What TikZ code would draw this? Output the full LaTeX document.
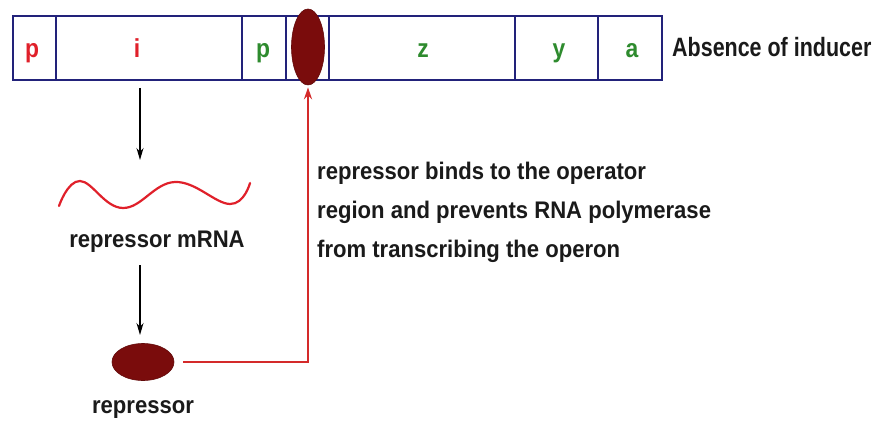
\documentclass[tikz,border=0pt]{standalone}
\usepackage{fontspec}
\setmainfont{Liberation Sans}
\newfontfamily\condfont{Liberation Sans}[FakeStretch=0.92]
\newfontfamily\narrowfont{Liberation Sans}[FakeStretch=0.81]
\newfontfamily\labfont{Liberation Sans}[FakeStretch=0.88]
\usetikzlibrary{arrows.meta,shapes.geometric}
\definecolor{navy}{HTML}{22227A}
\definecolor{genered}{HTML}{E0202A}
\definecolor{genegreen}{HTML}{2E8B2E}
\definecolor{darkrep}{HTML}{7A0C0C}
\definecolor{linkred}{HTML}{D42A2A}
\definecolor{inkblack}{HTML}{1A1A1A}
\begin{document}
\begin{tikzpicture}[x=1pt,y=-1pt,
  cell/.style={draw=navy,line width=2.2pt,minimum height=64pt,inner sep=0pt},
  lab/.style={anchor=base,inner sep=0pt,font=\labfont\fontsize{26}{30}\selectfont\bfseries},
  txt/.style={inner sep=0pt,text=inkblack,font=\condfont\fontsize{24}{28}\selectfont\bfseries},
  blob/.style={ellipse,fill=darkrep,draw=darkrep!80!black,line width=0.6pt,inner sep=0pt},
  blackarrow/.style={draw=black,line width=1.5pt,-{Stealth[length=12pt,width=7pt]}},
  redarrow/.style={draw=linkred,line width=2pt,-{Stealth[length=12pt,width=8pt]}},
  mrna/.style={draw=genered,line width=2.2pt,line cap=round}]
\fill[white] (0,0) rectangle (878,425);
\useasboundingbox (0,0) rectangle (878,425);
% operon cells
\node[cell,minimum width=43pt] (c1) at (34.5,48) {};
\node[cell,minimum width=186pt] (c2) at (149,48) {};
\node[cell,minimum width=44pt] (c3) at (264,48) {};
\node[cell,minimum width=43pt] (c4) at (307.5,48) {};
\node[cell,minimum width=186pt] (c5) at (422,48) {};
\node[cell,minimum width=83pt] (c6) at (556.5,48) {};
\node[cell,minimum width=64pt] (c7) at (630,48) {};
% labels
\node[lab,text=genered] (lp1) at (32,58) {p};
\node[lab,text=genered] (li) at (137,58) {i};
\node[lab,text=genegreen] (lp2) at (263,58) {p};
\node[lab,text=genegreen] (lz) at (423,58) {z};
\node[lab,text=genegreen] (ly) at (559,58) {y};
\node[lab,text=genegreen] (la) at (632,58) {a};
\node[inner sep=0pt,text=inkblack,anchor=base west,font=\narrowfont\fontsize{26.5}{30}\selectfont\bfseries] (absence) at (672,57) {Absence of inducer};
% operator with bound repressor
\node[blob,minimum width=33pt,minimum height=76pt] (op) at (308,47) {};
% repressor gene -> mRNA
\coordinate (a1s) at (140,88);
\coordinate (a1e) at (140,160);
\draw[blackarrow] (a1s) -- (a1e);
\draw[mrna] plot[smooth,tension=0.7] coordinates {(59,206) (80,181) (123,208) (175,182) (230,204) (250,183)};
\node[txt,anchor=base] (mrnalab) at (157,247) {repressor mRNA};
\coordinate (a2s) at (140,265);
\coordinate (a2e) at (140,335);
\draw[blackarrow] (a2s) -- (a2e);
\node[blob,minimum width=62pt,minimum height=37pt] (rep) at (143,362) {};
\node[txt,anchor=base] (replab) at (143,413) {repressor};
% binding
\draw[redarrow,shorten <=9pt,shorten >=2pt] (rep.east) -| (op.south);
\node[txt,anchor=base west] (par1) at (317,179) {repressor binds to the operator};
\node[txt,anchor=base west] (par2) at (317,218) {region and prevents RNA polymerase};
\node[txt,anchor=base west] (par3) at (317,257) {from transcribing the operon};
\end{tikzpicture}
\end{document}
